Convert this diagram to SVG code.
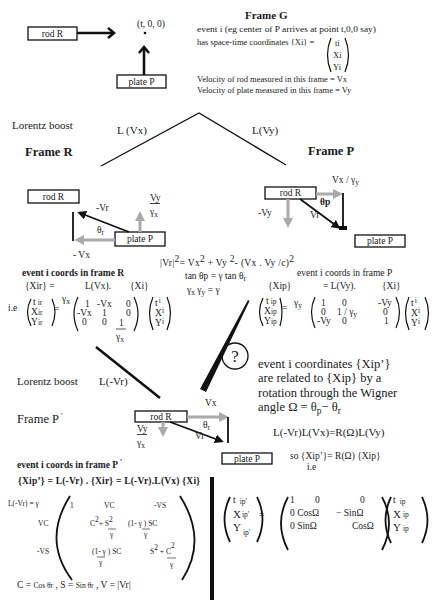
<svg xmlns="http://www.w3.org/2000/svg" width="443" height="600" viewBox="0 0 443 600" font-family="'Liberation Serif','Times New Roman',serif">
<defs>
<style>
text{font-family:"Liberation Serif","Times New Roman",serif;fill:#1a1a1a}
.f7{font-size:7.5px}
.f8{font-size:8.5px}
.f9{font-size:9.5px}
.f11{font-size:11px}
.f12{font-size:12.5px}
.b{font-weight:bold}
.box{fill:#fff;stroke:#111;stroke-width:1.3}
.ln{stroke:#111;fill:none;stroke-width:1.3}
.par{stroke:#111;fill:none;stroke-width:1.2}
.bp{stroke:#111;fill:none;stroke-width:1.8}
.g{stroke:#aaa;stroke-width:3;fill:none}
.k{stroke:#111;stroke-width:1.8;fill:none}
.ch{stroke:#111;stroke-width:2.6;fill:none}
.m{text-anchor:middle}
</style>
<marker id="gh" markerUnits="userSpaceOnUse" markerWidth="10" markerHeight="10" refX="5" refY="5" orient="auto"><path d="M0,0 L10,5 L0,10 z" fill="#aaa"/></marker>
<marker id="kh" markerUnits="userSpaceOnUse" markerWidth="9" markerHeight="9" refX="6" refY="4.5" orient="auto"><path d="M0,0 L9,4.5 L0,9 z" fill="#111"/></marker>
</defs>

<!-- Frame G -->
<g id="frameG-rod"><rect class="box" x="28" y="27" width="49" height="13"/><text class="f9 m" x="52.5" y="37">rod R</text></g>
<g id="frameG-point"><text class="f9" x="137" y="27">(t, 0, 0)</text><circle cx="145" cy="33" r="1.3" fill="#111"/></g>
<g id="frameG-plate"><rect class="box" x="117" y="75" width="49" height="13"/><text class="f9 m" x="141.5" y="85">plate P</text></g>
<g id="frameG-text">
<text class="f11 b" x="245" y="19">Frame G</text>
<text class="f8" x="197" y="32" textLength="179" lengthAdjust="spacingAndGlyphs">event i (eg center of  P arrives at point t,0,0 say)</text>
<text class="f8" x="197" y="45">has space-time coordinates {Xi} =</text>
<path class="par" d="M331,38 Q324,55 331,72"/><path class="par" d="M345,38 Q352,55 345,72"/>
<text class="f8" x="335" y="46">ti</text><text class="f8" x="333" y="58">Xi</text><text class="f8" x="333" y="70">Yi</text>
<text class="f8" x="197" y="82">Velocity of rod measured in this frame = Vx</text>
<text class="f8" x="197" y="93">Velocity of plate measured in this frame = Vy</text>
</g>

<!-- Lorentz boosts -->
<g id="boost-top">
<text class="f11" x="12" y="129">Lorentz boost</text>
<text class="f11" x="117" y="134">L (Vx)</text>
<text class="f11" x="252" y="134">L(Vy)</text>
</g>

<!-- Frame R -->
<g id="frameR">
<text class="f12 b" x="25" y="156">Frame R</text>
<rect class="box" x="28" y="190" width="51" height="13"/><text class="f9 m" x="53.5" y="200">rod R</text>
<rect class="box" x="115" y="232" width="50" height="14"/><text class="f9 m" x="140" y="242">plate P</text>
<text class="f9" x="96" y="211">-Vr</text>
<text class="f9" x="97" y="233">θ<tspan class="f7" dy="2">r</tspan></text>
<text class="f9" x="150" y="201">Vy</text><line x1="150" y1="203.5" x2="160" y2="203.5" stroke="#111" stroke-width="0.8"/>
<text class="f9" x="150" y="215">γ<tspan class="f7" dy="2">x</tspan></text>
<text class="f9" x="73" y="258">- Vx</text>
</g>

<!-- Frame P -->
<g id="frameP">
<text class="f12 b" x="308" y="155">Frame P</text>
<rect class="box" x="265" y="187" width="51" height="12"/><text class="f9 m" x="290.5" y="196">rod R</text>
<rect class="box" x="355" y="235" width="50" height="12"/><text class="f9 m" x="380" y="244">plate P</text>
<text class="f9" x="332" y="183">Vx / γ<tspan class="f7" dy="2">y</tspan></text>
<text class="f9 b" x="320" y="205">θp</text>
<text class="f9" x="310" y="218">Vr</text>
<text class="f9" x="258" y="216">-Vy</text>
</g>

<!-- middle equations -->
<g id="equations">
<text class="f9" x="160" y="266" textLength="134">|Vr|<tspan dy="-4">2</tspan><tspan dy="4">=  Vx</tspan><tspan dy="-4">2</tspan><tspan dy="4"> + Vy</tspan><tspan dy="-4"> 2</tspan><tspan dy="4">- (Vx . Vy /c)</tspan><tspan dy="-4">2</tspan></text>
<text class="f9" x="185" y="279">tan θp = γ tan θ<tspan class="f7" dy="2">r</tspan></text>
<text class="f9" x="187" y="293">γ<tspan class="f7" dy="2">x</tspan><tspan dy="-2"> γ</tspan><tspan class="f7" dy="2">y</tspan><tspan dy="-2"> =  γ</tspan></text>
</g>

<!-- Frame R coordinates -->
<g id="coordsR">
<text class="f9 b" x="22" y="276">event i coords in frame R</text>
<text class="f9" x="25" y="289">{Xir} =</text>
<text class="f9" x="85" y="289">L(Vx).</text>
<text class="f9" x="130" y="289">{Xi}</text>
<text class="f9" x="8" y="311">i.e</text>
<path class="par" d="M31,299 Q24,312 31,326"/><path class="par" d="M52,299 Q58,312 52,326"/>
<text class="f9" x="33" y="305">t<tspan class="f7" dx="2">ir</tspan></text>
<text class="f9" x="31" y="315">X<tspan class="f7">ir</tspan></text>
<text class="f9" x="31" y="325">Y<tspan class="f7">ir</tspan></text>
<text class="f9" x="54" y="312">=</text>
<text class="f9" x="62" y="302">γ<tspan class="f7" dy="2">x</tspan></text>
<path class="par" d="M78,297 Q70,314 78,331"/><path class="par" d="M134,297 Q142,314 134,331"/>
<text class="f9" x="85" y="307">1</text><text class="f9" x="97" y="307">-Vx</text><text class="f9" x="126" y="307">0</text>
<text class="f9" x="77" y="316">-Vx</text><text class="f9" x="102" y="316">1</text><text class="f9" x="126" y="316">0</text>
<text class="f9" x="82" y="325">0</text><text class="f9" x="102" y="325">0</text><text class="f9" x="119" y="326">1</text>
<line x1="116" y1="329" x2="126" y2="329" stroke="#111" stroke-width="0.7"/>
<text class="f9" x="116" y="340">γ<tspan class="f7" dy="2">x</tspan></text>
<path class="par" d="M153,297 Q146,313 153,330"/><path class="par" d="M167,297 Q174,313 167,330"/>
<text class="f9" x="155" y="306">t<tspan class="f7" dx="1" dy="-3">i</tspan></text>
<text class="f9" x="155" y="316">X<tspan class="f7" dy="-3">i</tspan></text>
<text class="f9" x="155" y="326">Y<tspan class="f7" dy="-2">i</tspan></text>
</g>

<!-- Frame P coordinates -->
<g id="coordsP">
<text class="f9" x="297" y="276">event i coords in frame P</text>
<text class="f9" x="268" y="289">{Xip}</text>
<text class="f9" x="323" y="289">= L(Vy).</text>
<text class="f9" x="382" y="289">{Xi}</text>
<path class="par" d="M263,298 Q256,312 263,326"/><path class="par" d="M280,298 Q284,312 280,326"/>
<text class="f9" x="266" y="304">t<tspan class="f7" dx="2">ip</tspan></text>
<text class="f9" x="264" y="314">X<tspan class="f7">ip</tspan></text>
<text class="f9" x="264" y="324">Y<tspan class="f7">ip</tspan></text>
<text class="f9" x="282" y="311">=</text>
<text class="f9" x="294" y="306">γ<tspan class="f7" dy="2">y</tspan></text>
<path class="par" d="M315,297 Q308,312 315,328"/><path class="par" d="M396,297 Q403,312 396,328"/>
<text class="f9" x="321" y="306">1</text><text class="f9" x="342" y="306">0</text><text class="f9" x="378" y="306">-Vy</text>
<text class="f9" x="321" y="315">0</text><text class="f9" x="337" y="315">1 / γ<tspan class="f7" dy="2">y</tspan></text><text class="f9" x="383" y="315">0</text>
<text class="f9" x="317" y="324">-Vy</text><text class="f9" x="342" y="324">0</text><text class="f9" x="384" y="324">1</text>
<path class="par" d="M409,297 Q402,313 409,330"/><path class="par" d="M425,297 Q432,313 425,330"/>
<text class="f9" x="411" y="306">t<tspan class="f7" dx="1" dy="-3">i</tspan></text>
<text class="f9" x="411" y="316">X<tspan class="f7" dy="-3">i</tspan></text>
<text class="f9" x="411" y="326">Y<tspan class="f7" dy="-2">i</tspan></text>
</g>

<!-- question -->
<g id="question"><circle cx="235" cy="356" r="13" fill="#fff" stroke="#111" stroke-width="1.3"/><text class="m" x="235" y="362" style="font-size:17px">?</text></g>

<!-- Wigner text -->
<g id="wigner">
<text class="f12" x="258" y="368">event i coordinates {Xip’}</text>
<text class="f12" x="258" y="382">are related to {Xip} by a</text>
<text class="f12" x="258" y="397">rotation through the Wigner</text>
<text class="f12" x="258" y="411">angle Ω = θ<tspan class="f9" dy="3">p</tspan><tspan dy="-3">−  θ</tspan><tspan class="f9" dy="3">r</tspan></text>
<text class="f11" x="273" y="436">L(-Vr)L(Vx)=R(Ω)L(Vy)</text>
<text class="f9" x="290" y="459">so  {Xip’}= R(Ω) {Xip}</text>
<text class="f9" x="307" y="470">i.e</text>
</g>

<!-- Frame P' -->
<g id="frameP2">
<text class="f11" x="17" y="385">Lorentz boost</text>
<text class="f11" x="99" y="385">L(-Vr)</text>
<text class="f12" x="17" y="423">Frame P<tspan class="f8" dx="2" dy="-4">'</tspan></text>
<rect class="box" x="135" y="411" width="52" height="11"/><text class="f9 m" x="161" y="420">rod R</text>
<rect class="box" x="222" y="453" width="50" height="11"/><text class="f9 m" x="247" y="462">plate P</text>
<text class="f9" x="205" y="406">Vx</text>
<text class="f9" x="203" y="428">θ<tspan class="f7" dy="2">r</tspan></text>
<text class="f9" x="195" y="439">Vr</text>
<text class="f9" x="137" y="432">Vy</text><line x1="137" y1="434.5" x2="147" y2="434.5" stroke="#111" stroke-width="0.8"/>
<text class="f9" x="137" y="446">γ<tspan class="f7" dy="2">x</tspan></text>
</g>

<!-- Frame P' coordinates -->
<g id="coordsP2">
<text class="f9 b" x="17" y="468">event i coords in frame P<tspan class="f7" dx="2" dy="-3">'</tspan></text>
<text class="f9 b" x="18" y="484" textLength="182">{Xip’} =  L(-Vr) . {Xir} = L(-Vr).L(Vx) {Xi}</text>
<text class="f7" x="8" y="506">L(-Vr) =  γ</text>
<path class="bp" d="M70,496 Q42,540 72,580"/><path class="bp" d="M180,496 Q208,540 182,580"/>
<text class="f7" x="70" y="508">1</text><text class="f7" x="104" y="508">VC</text><text class="f7" x="154" y="508">-VS</text>
<text class="f7" x="38" y="526">VC</text>
<text class="f7" x="90" y="526">C<tspan dy="-4">2</tspan><tspan dy="4">+ S</tspan><tspan dy="-4">2</tspan></text>
<line x1="108" y1="529" x2="116" y2="529" stroke="#111" stroke-width="0.6"/><text class="f7" x="110" y="537">γ</text>
<text class="f7" x="128" y="526">(1- γ ) SC</text>
<line x1="142" y1="529" x2="150" y2="529" stroke="#111" stroke-width="0.6"/><text class="f7" x="144" y="537">γ</text>
<text class="f7" x="37" y="554">-VS</text>
<text class="f7" x="92" y="554">(1- γ ) SC</text>
<line x1="97" y1="557" x2="105" y2="557" stroke="#111" stroke-width="0.6"/><text class="f7" x="99" y="565">γ</text>
<text class="f7" x="150" y="554">S<tspan dy="-4">2</tspan><tspan dy="4"> + C</tspan><tspan dy="-6">2</tspan></text>
<line x1="167" y1="558" x2="176" y2="558" stroke="#111" stroke-width="0.6"/><text class="f7" x="170" y="567">γ</text>
<text class="f9" x="17" y="588">C = <tspan class="f7">Cos θr</tspan>   , S = <tspan class="f7"> Sin θr</tspan>   , V = |Vr|</text>
</g>

<!-- rotation matrix -->
<g id="rotation">
<path class="bp" d="M230,497 Q219,519 230,542"/><path class="bp" d="M257,497 Q268,519 257,542"/>
<text class="f9" x="233" y="503">t<tspan class="f7" dx="4" dy="1">ip'</tspan></text>
<text class="f11" x="233" y="518">X<tspan class="f7" dx="1" dy="-1">ip'</tspan></text>
<text class="f11" x="233" y="531">Y<tspan class="f7" dx="2" dy="4">ip'</tspan></text>
<text class="f9" x="259" y="518">=</text>
<path class="bp" d="M288,497 Q274,523 288,550"/><path class="bp" d="M382,497 Q396,523 382,550"/>
<text class="f9" x="290" y="503">1</text><text class="f9" x="315" y="503">0</text><text class="f9" x="360" y="503">0</text>
<text class="f9" x="290" y="516">0  CosΩ</text><text class="f9" x="336" y="516">− SinΩ</text>
<text class="f9" x="290" y="529">0  SinΩ</text><text class="f9" x="352" y="529">CosΩ</text>
<path class="bp" d="M391,497 Q380,520 391,543"/><path class="bp" d="M422,497 Q433,520 422,543"/>
<text class="f9" x="393" y="503">t<tspan class="f7" dx="4" dy="1">ip</tspan></text>
<text class="f11" x="393" y="518">X<tspan class="f7" dx="2" dy="-1">ip</tspan></text>
<text class="f11" x="393" y="531">Y<tspan class="f7" dx="2" dy="0">ip</tspan></text>
</g>

<!-- connectors -->
<g id="connectors">
<line class="ch" x1="77" y1="33" x2="114" y2="33"/><polyline class="ch" points="108,28 114,33 108,38"/>
<line class="ch" x1="144" y1="75" x2="144" y2="47"/><polyline class="ch" points="139,53 144,47 149,53"/>
<polyline class="ln" points="101,166 199,113 286,165"/>
<line class="g" x1="140" y1="232" x2="140" y2="216" marker-end="url(#gh)"/>
<line class="g" x1="115" y1="240" x2="79" y2="240" marker-end="url(#gh)"/>
<line class="k" x1="73" y1="212" x2="73" y2="241"/>
<line class="k" x1="129" y1="232" x2="80" y2="213" marker-end="url(#kh)"/>
<line class="g" x1="316" y1="194" x2="338" y2="194" marker-end="url(#gh)"/>
<line class="g" x1="288" y1="199" x2="288" y2="223" marker-end="url(#gh)"/>
<line class="k" x1="343" y1="193" x2="343" y2="229"/>
<line class="k" x1="300" y1="199" x2="338" y2="227" marker-end="url(#kh)"/>
<rect x="339" y="226" width="8" height="4" fill="#111"/>
<line class="g" x1="187" y1="417" x2="224" y2="417" marker-end="url(#gh)"/>
<line class="g" x1="163" y1="422" x2="163" y2="432" marker-end="url(#gh)"/>
<line class="k" x1="228" y1="417" x2="228" y2="443"/>
<line class="k" x1="170" y1="422" x2="221" y2="441" marker-end="url(#kh)"/>
<line x1="96" y1="347" x2="160" y2="398" stroke="#111" stroke-width="2.5"/>
<polygon points="248,300 249.5,301 206,392 200,389" fill="#111"/>
<rect x="210" y="477" width="4" height="123" fill="#111"/>
</g>
</svg>
